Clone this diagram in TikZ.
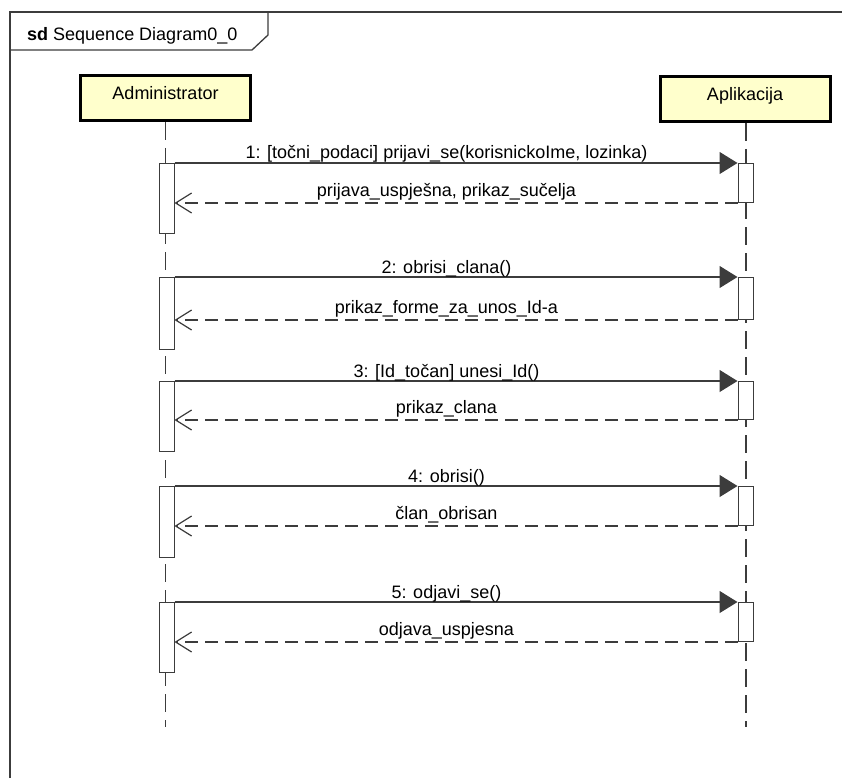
\documentclass[tikz,border=0pt]{standalone}
\usepackage{fontspec}
\setmainfont{Liberation Sans}
\usetikzlibrary{arrows.meta,positioning}
\definecolor{actorfill}{HTML}{FFFFCC}
\definecolor{linegray}{HTML}{3C3C3C}

\begin{document}
\begin{tikzpicture}[x=1pt,y=-1pt,
    font=\fontsize{18}{20}\selectfont,
    actor/.style={draw=black,line width=3pt,fill=actorfill,minimum width=170pt,
        minimum height=45pt,text height=13pt,text depth=9pt,inner sep=0pt},
    lifeline/.style={draw=linegray,line width=1.8pt,dash pattern=on 18pt off 8pt},
    activation/.style={draw=linegray,line width=1pt,fill=white,minimum width=15pt,
        inner sep=0pt,anchor=north},
    call/.style={draw=linegray,line width=1.2pt,-{Triangle[length=18pt,width=22pt]}},
    reply/.style={draw=linegray,line width=1.2pt,dash pattern=on 13pt off 7pt,
        -{Straight Barb[length=16pt,width=20pt,line width=1.2pt]}},
    msg/.style={anchor=base,pos=0.483,yshift=4pt,inner sep=0pt},
    ret/.style={anchor=base,pos=0.517,yshift=7pt,inner sep=0pt}
]
\useasboundingbox (0,0) rectangle (842,778);

% Frame and tab
\draw[linegray,line width=1.3pt] (10,778) -- (10,12) -- (842,12);
\draw[linegray,line width=1.3pt] (10,50) -- (252,50) -- (268,35) -- (268,12);
\node[anchor=base west,inner sep=0pt] (title) at (27,41) {\textbf{sd} Sequence Diagram0\_0};

% Lifelines
\coordinate (adminEnd) at (165.5,727);
\coordinate (appEnd) at (746,727);
\draw[lifeline] (165.5,122) -- (adminEnd);
\draw[lifeline] (746,123) -- (appEnd);

% Actors
\node[actor] (admin) at (165.5,98) {Administrator};
\node[actor] (app) at (745,99) {Aplikacija};

% Activations
\foreach \i/\y/\lh/\rh in {1/163/70/39, 2/277/72/42, 3/381/70/38, 4/486/71/39, 5/602/70/39}{
  \node[activation,minimum height=\lh] (la\i) at (166.5,\y) {};
  \node[activation,minimum height=\rh] (ra\i) at (745.5,\y) {};
}

% Messages
\draw[call] (la1.north east) -- node[msg] {1: [točni\_podaci] prijavi\_se(korisnickoIme, lozinka)} (ra1.north west);
\draw[reply] (ra1.south west) -- node[ret] {prijava\_uspješna, prikaz\_sučelja} (la1.east |- ra1.south west);

\draw[call] (la2.north east) -- node[msg] {2: obrisi\_clana()} (ra2.north west);
\draw[reply] (ra2.south west) -- node[ret] {prikaz\_forme\_za\_unos\_Id-a} (la2.east |- ra2.south west);

\draw[call] (la3.north east) -- node[msg] {3: [Id\_točan] unesi\_Id()} (ra3.north west);
\draw[reply] (ra3.south west) -- node[ret] {prikaz\_clana} (la3.east |- ra3.south west);

\draw[call] (la4.north east) -- node[msg] {4: obrisi()} (ra4.north west);
\draw[reply] (ra4.south west) -- node[ret] {član\_obrisan} (la4.east |- ra4.south west);

\draw[call] (la5.north east) -- node[msg] {5: odjavi\_se()} (ra5.north west);
\draw[reply] (ra5.south west) -- node[ret] {odjava\_uspjesna} (la5.east |- ra5.south west);

\end{tikzpicture}
\end{document}
